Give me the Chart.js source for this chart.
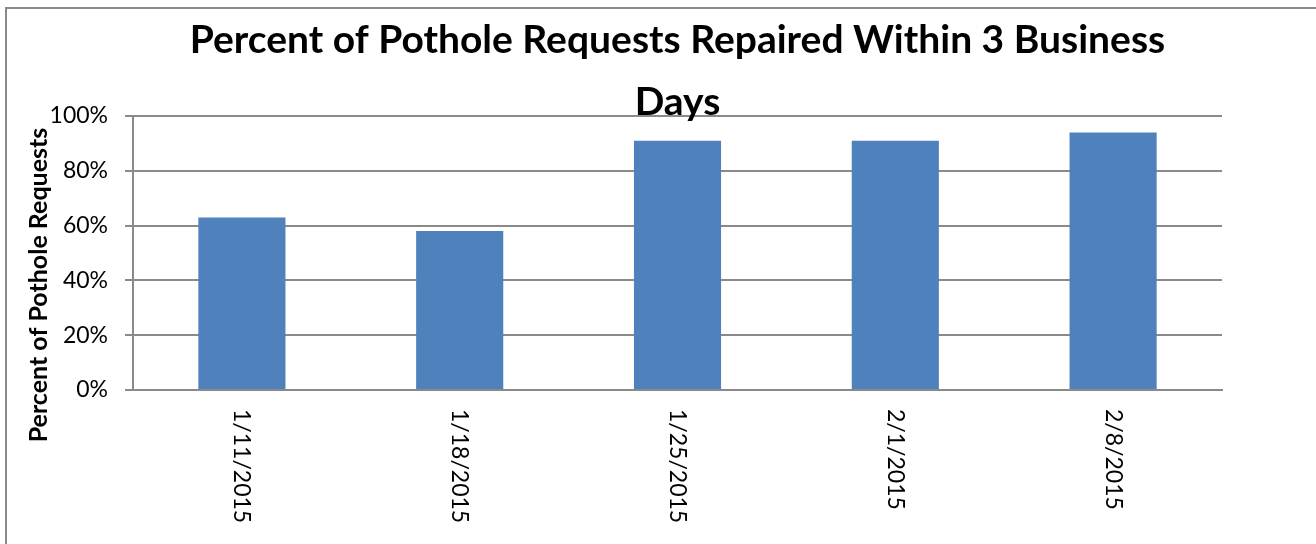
<!DOCTYPE html>
<html>
<head>
<meta charset="utf-8">
<title>Pothole repairs</title>
<script src="https://cdn.jsdelivr.net/npm/chart.js@4"></script>
<style>
  html, body { margin: 0; padding: 0; background: #fff; overflow: hidden; }
  #frame {
    position: absolute; left: 5px; top: 7px; width: 3000px; height: 3000px;
    border-left: 2px solid #8a8a8a; border-top: 2px solid #8a8a8a;
  }
  #chart { position: absolute; left: 0; top: 0; }
</style>
</head>
<body>
<div id="frame"></div>
<canvas id="chart" width="1316" height="544"></canvas>
<script>
// weeks (category axis)
let weeks = ['1/11/2015', '1/18/2015', '1/25/2015', '2/1/2015', '2/8/2015'];
// percent of requests repaired within 3 business days
let repaired = [63, 58, 91, 91, 94];
// y axis tick labels, 0..100 by 20
let yTickValues = [0, 20, 40, 60, 80, 100];
let yTickLabels = ['0%', '20%', '40%', '60%', '80%', '100%'];

let titleLines = ['Percent of Pothole Requests Repaired Within 3 Business', 'Days'];
let yTitle = 'Percent of Pothole Requests';

Chart.defaults.font.family = 'Lato';
Chart.defaults.color = '#000';

let gridGray = '#8a8a8a';

// draws the rotated (top-to-bottom) week labels and the y axis title
let extraText = {
  id: 'extraText',
  afterDraw(chart) {
    let ctx = chart.ctx;
    let x = chart.scales.x;
    let area = chart.chartArea;
    ctx.save();
    ctx.fillStyle = '#000';
    ctx.font = '23px Lato';
    ctx.textAlign = 'left';
    ctx.textBaseline = 'middle';
    for (let i = 0; i < weeks.length; i++) {
      ctx.save();
      ctx.translate(x.getPixelForValue(i), area.bottom + 19);
      ctx.rotate(Math.PI / 2);
      ctx.fillText(weeks[i], 0, 0);
      ctx.restore();
    }
    // y title sits a bit below the axis middle, like the original
    ctx.font = 'bold 25px Lato';
    ctx.textAlign = 'center';
    ctx.textBaseline = 'alphabetic';
    ctx.translate(47, 285);
    ctx.rotate(-Math.PI / 2);
    ctx.fillText(yTitle, 0, 0);
    ctx.restore();
  }
};

let chart = new Chart(document.getElementById('chart'), {
  type: 'bar',
  data: {
    labels: weeks,
    datasets: [{
      data: repaired,
      backgroundColor: '#4f81bd',
      borderWidth: 0,
      barPercentage: 0.4,
      categoryPercentage: 1.0
    }]
  },
  options: {
    responsive: false,
    animation: false,
    layout: { padding: { left: 0, right: 94, top: 0, bottom: 0 } },
    plugins: {
      legend: { display: false },
      tooltip: { enabled: false },
      title: {
        display: true,
        text: titleLines,
        fullSize: false,
        color: '#000',
        font: { size: 39, weight: 'bold', lineHeight: '62px' },
        padding: { top: 9, bottom: -17 }
      }
    },
    scales: {
      x: {
        grid: { display: false },
        border: { display: true, color: gridGray, width: 2 },
        ticks: { display: false },
        afterFit(scale) { scale.height = 154; }
      },
      y: {
        min: 0,
        max: 100,
        afterBuildTicks(scale) {
          scale.ticks = yTickValues.map(v => ({ value: v }));
        },
        ticks: {
          font: { size: 23 },
          padding: 17,
          callback: (v) => yTickLabels[yTickValues.indexOf(v)]
        },
        grid: { color: gridGray, lineWidth: 2, tickLength: 8 },
        border: { display: true, color: gridGray, width: 2 },
        afterFit(scale) { scale.width = 133; }
      }
    }
  },
  plugins: [extraText]
});
</script>
</body>
</html>
